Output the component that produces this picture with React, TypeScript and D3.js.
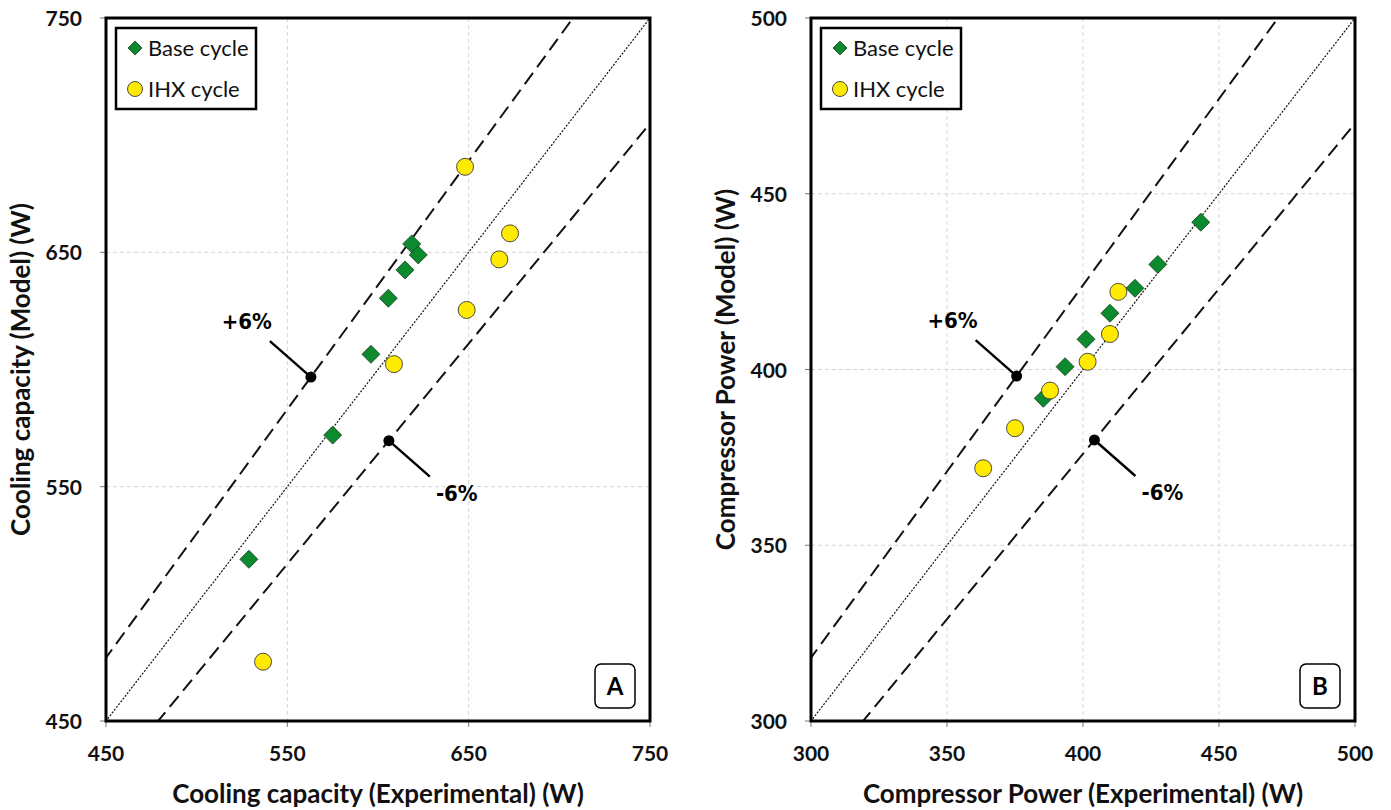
import React from "react";
import * as d3 from "d3";

// ---------- data ----------
const ticksA = [450, 550, 650, 750];
const baseA_x = [528.8, 575, 596.1, 605.7, 614.9, 618.6, 622.2];
const baseA_y = [519, 572, 606.5, 630.4, 642.5, 653.6, 648.9];
const ihxA_x = [536.6, 608.8, 648.9, 666.9, 672.8, 648];
const ihxA_y = [475.3, 602.3, 625.4, 647, 658.1, 686.5];

const ticksB = [300, 350, 400, 450, 500];
const baseB_x = [385.4, 393.4, 401.1, 409.9, 419.1, 427.5, 443.3];
const baseB_y = [391.8, 400.8, 408.6, 416, 423.1, 429.9, 441.9];
const ihxB_x = [363.3, 375, 387.9, 401.7, 409.9, 413];
const ihxB_y = [371.9, 383.3, 394, 402.2, 410.1, 422.1];

const bandFactors = [1.06, 0.94];
const bandLabels = ["+6%", "-6%"];
const annotA_x = [563, 606];
const annotB_x = [375.6, 404.2];

const seriesNames = ["Base cycle", "IHX cycle"];

const FONT = "Lato, 'Open Sans', sans-serif";
const NARROW = "'Liberation Sans Narrow', 'DejaVu Sans Condensed', 'Liberation Sans', sans-serif";
const GREEN = "#0b8a2e";
const YELLOW = "#ffea00";

type PanelProps = {
  id: string;
  left: number;
  right: number;
  top: number;
  bottom: number;
  ticks: number[];
  baseX: number[];
  baseY: number[];
  ihxX: number[];
  ihxY: number[];
  annotX: number[];
  xTitle: string;
  yTitle: string;
  letter: string;
};

function Diamond({ cx, cy, r }: { cx: number; cy: number; r: number }) {
  const p = `M${cx},${cy - r}L${cx + r},${cy}L${cx},${cy + r}L${cx - r},${cy}Z`;
  return <path d={p} fill={GREEN} stroke="#1a3d1f" strokeWidth={0.8} />;
}

function Panel(props: PanelProps) {
  const { id, left, right, top, bottom, ticks } = props;
  const dom: [number, number] = [ticks[0], ticks[ticks.length - 1]];
  const x = d3.scaleLinear().domain(dom).range([left, right]);
  const y = d3.scaleLinear().domain(dom).range([bottom, top]);
  const inner = ticks.slice(1, -1);
  const line = d3
    .line<number>()
    .x((v) => x(v))
    .y((v) => y(v));
  const ext = [dom[0] * 0.8, dom[1] * 1.2];
  const cxm = (left + right) / 2;
  const cym = (top + bottom) / 2;

  const lineFor = (f: number) =>
    d3
      .line<number>()
      .x((v) => x(v))
      .y((v) => y(v * f))(ext) as string;

  return (
    <g>
      <defs>
        <clipPath id={`clip-${id}`}>
          <rect x={left} y={top} width={right - left} height={bottom - top} />
        </clipPath>
      </defs>
      {/* grid */}
      {inner.map((t) => (
        <g key={`g${t}`}>
          <line x1={x(t)} x2={x(t)} y1={top} y2={bottom} stroke="#d6d6d6" strokeWidth={1} strokeDasharray="4,3" />
          <line x1={left} x2={right} y1={y(t)} y2={y(t)} stroke="#d6d6d6" strokeWidth={1} strokeDasharray="4,3" />
        </g>
      ))}
      {/* ticks */}
      {ticks.map((t) => (
        <g key={`t${t}`}>
          <line x1={x(t)} x2={x(t)} y1={bottom} y2={bottom + 6} stroke="#777" strokeWidth={1} />
          <line x1={left - 6} x2={left} y1={y(t)} y2={y(t)} stroke="#777" strokeWidth={1} />
          <text x={x(t)} y={bottom + 40} textAnchor="middle" fontFamily={FONT} fontWeight={700} fontSize={21} fill="#111">
            {t}
          </text>
          <text x={left - 24} y={y(t) + 8} textAnchor="end" fontFamily={FONT} fontWeight={700} fontSize={21} fill="#111">
            {t}
          </text>
        </g>
      ))}
      {/* lines */}
      <g clipPath={`url(#clip-${id})`}>
        <path d={line(ext) as string} fill="none" stroke="#111" strokeWidth={1.2} strokeDasharray="2,1.5" />
        {bandFactors.map((f) => (
          <path key={f} d={lineFor(f)} fill="none" stroke="#111" strokeWidth={2} strokeDasharray="14,7" />
        ))}
      </g>
      {/* annotations */}
      {props.annotX.map((v, i) => {
        const f = bandFactors[i];
        const px = x(v);
        const py = y(v * f);
        const sgn = i === 0 ? -1 : 1;
        const ex = px + sgn * 41;
        const ey = py + sgn * 36;
        return (
          <g key={`a${i}`}>
            <line x1={px} y1={py} x2={ex} y2={ey} stroke="#000" strokeWidth={2.4} />
            <circle cx={px} cy={py} r={5.5} fill="#000" />
            {i === 0 ? (
              <text x={ex + 2} y={ey - 12} textAnchor="end" fontFamily={NARROW} fontWeight={700} fontSize={22} fill="#000">
                {bandLabels[i]}
              </text>
            ) : (
              <text x={ex + 6} y={ey + 24} textAnchor="start" fontFamily={NARROW} fontWeight={700} fontSize={22} fill="#000">
                {bandLabels[i]}
              </text>
            )}
          </g>
        );
      })}
      {/* points */}
      {props.baseX.map((v, i) => (
        <Diamond key={`b${i}`} cx={x(v)} cy={y(props.baseY[i])} r={9} />
      ))}
      {props.ihxX.map((v, i) => (
        <circle key={`c${i}`} cx={x(v)} cy={y(props.ihxY[i])} r={8.5} fill={YELLOW} stroke="#3a3a3a" strokeWidth={0.9} />
      ))}
      {/* frame */}
      <rect x={left} y={top} width={right - left} height={bottom - top} fill="none" stroke="#000" strokeWidth={3} />
      {/* legend */}
      <g>
        <rect x={left + 10} y={top + 10} width={140} height={81} fill="#fff" stroke="#000" strokeWidth={2.5} />
        <Diamond cx={left + 29} cy={top + 30} r={7} />
        <text x={left + 42} y={top + 38} fontFamily={FONT} fontSize={22} fill="#111">
          {seriesNames[0]}
        </text>
        <circle cx={left + 29} cy={top + 71} r={7.5} fill={YELLOW} stroke="#3a3a3a" strokeWidth={0.9} />
        <text x={left + 42} y={top + 79} fontFamily={FONT} fontSize={22} fill="#111">
          {seriesNames[1]}
        </text>
      </g>
      {/* letter box */}
      <rect x={right - 55} y={bottom - 57} width={40} height={44} rx={6} fill="#fff" stroke="#000" strokeWidth={1.5} />
      <text x={right - 35} y={bottom - 26} textAnchor="middle" fontFamily={FONT} fontWeight={700} fontSize={24} fill="#000">
        {props.letter}
      </text>
      {/* titles */}
      <text x={cxm} y={bottom + 82} textAnchor="middle" fontFamily={FONT} fontWeight={700} fontSize={26} fill="#111">
        {props.xTitle}
      </text>
      <text
        transform={`translate(${left - 76},${cym}) rotate(-90)`}
        textAnchor="middle"
        fontFamily={FONT}
        fontWeight={700}
        fontSize={26}
        fill="#111"
      >
        {props.yTitle}
      </text>
    </g>
  );
}

export default function App() {
  return (
    <svg width={1391} height={810} style={{ position: "absolute", left: 0, top: 0, background: "#fff" }}>
      <rect width={1391} height={810} fill="#fff" />
      <Panel
        id="A"
        left={106}
        right={650}
        top={18}
        bottom={721}
        ticks={ticksA}
        baseX={baseA_x}
        baseY={baseA_y}
        ihxX={ihxA_x}
        ihxY={ihxA_y}
        annotX={annotA_x}
        xTitle="Cooling capacity (Experimental) (W)"
        yTitle="Cooling capacity (Model) (W)"
        letter="A"
      />
      <Panel
        id="B"
        left={811}
        right={1355}
        top={18}
        bottom={721}
        ticks={ticksB}
        baseX={baseB_x}
        baseY={baseB_y}
        ihxX={ihxB_x}
        ihxY={ihxB_y}
        annotX={annotB_x}
        xTitle="Compressor Power (Experimental) (W)"
        yTitle="Compressor Power (Model) (W)"
        letter="B"
      />
    </svg>
  );
}
